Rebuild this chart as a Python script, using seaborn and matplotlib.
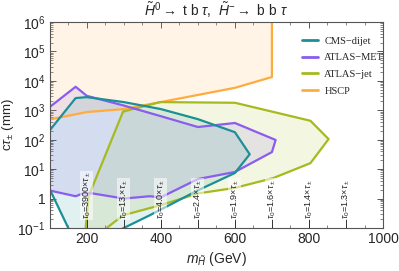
import numpy as np
import pandas as pd
import seaborn as sns
import matplotlib.pyplot as plt
from matplotlib.ticker import FixedLocator, LogLocator, FuncFormatter, NullFormatter

# contour points (mass in GeV, c*tau in mm)
hscp_m = [90, 200, 300, 400, 600, 700, 700, 90]
hscp_ct = [460, 870, 1100, 1900, 5800, 13500, 1e7, 1e7]

cms_m = [90, 170, 200, 300, 400, 500, 600, 640, 600, 500, 370, 300, 275, 156, 90]
cms_ct = [145, 2600, 2800, 1900, 1100, 500, 180, 32, 7.4, 1.9, 0.27, 0.1, 0.07, 0.07, 3.8]

met_m = [90, 170, 200, 300, 400, 500, 600, 710, 700, 600, 500, 400, 370, 300, 215, 190, 170, 90]
met_ct = [1030, 6300, 3100, 1450, 630, 270, 370, 98, 38, 8, 4.6, 1.1, 1.2, 1.0, 1.5, 1.5, 1.2, 2.0]

jet_m = [298, 398, 600, 804, 853, 804, 704, 600, 501, 400, 298, 238, 196, 205]
jet_ct = [900, 1900, 1800, 440, 105, 16, 5, 2.3, 1.5, 0.6, 0.27, 0.07, 0.07, 1.2]

tau_pos = [200, 300, 400, 500, 600, 700, 800, 900]
tau_txt = ["3900", "13.", "4.0", "2.4", "1.9", "1.6", "1.4", "1.3"]

curves = [
    ("CMS\u2212dijet", cms_m, cms_ct, "#1b9096"),
    ("ATLAS\u2212MET", met_m, met_ct, "#8a5cf0"),
    ("ATLAS\u2212jet", jet_m, jet_ct, "#a6ba1e"),
    ("HSCP", hscp_m, hscp_ct, "#ffac3c"),
]

sns.set_theme(style="ticks")
plt.rcParams['font.family'] = ['Liberation Sans', 'DejaVu Sans']
plt.rcParams['mathtext.fontset'] = 'custom'
plt.rcParams['mathtext.rm'] = 'Liberation Sans'
plt.rcParams['mathtext.it'] = 'Liberation Sans:italic'

fig = plt.figure(figsize=(3.99, 2.71), dpi=100)
ax = fig.add_axes([0.1246, 0.1587, 0.8354, 0.7601])

# fills first, HSCP at the bottom
for name, m, ct, col in curves[::-1]:
    ax.fill(m, ct, color=col, alpha=0.13, lw=0)

for name, m, ct, col in curves[::-1]:
    d = pd.DataFrame({"m": m + [m[0]], "ct": ct + [ct[0]]})
    sns.lineplot(data=d, x="m", y="ct", sort=False, estimator=None,
                 color=col, lw=1.6, ax=ax, label=name)

ax.set_yscale("log")
ax.set_xlim(100, 1000)
ax.set_ylim(0.1, 1e6)

# lifetime labels along the bottom
for x, t in zip(tau_pos, tau_txt):
    ax.vlines(x, 0.1, 0.2, color="#333333", lw=0.7, zorder=5)
    ax.text(x, 0.2, r"$\tau_0$=" + t + r"$\times\tau_\pm$", rotation=90,
            ha="center", va="bottom", fontsize=6.5, color="#222222", zorder=6,
            bbox=dict(facecolor="white", edgecolor="none", alpha=0.55, pad=0.6))

ax.xaxis.set_major_locator(FixedLocator([200, 400, 600, 800, 1000]))
ax.xaxis.set_minor_locator(FixedLocator(np.arange(100, 1001, 50)))
ax.yaxis.set_major_locator(LogLocator(base=10, numticks=20))
ax.yaxis.set_minor_locator(LogLocator(base=10, subs=np.arange(2, 10), numticks=20))
ax.yaxis.set_minor_formatter(NullFormatter())


def yfmt(v, pos):
    e = int(round(np.log10(v)))
    if e == 0:
        return "1"
    return r"$10^{%d}$" % e


ax.yaxis.set_major_formatter(FuncFormatter(yfmt))
ax.tick_params(which="both", direction="in", top=True, right=True,
               color="#555555", labelsize=10, pad=3)
ax.tick_params(which="major", length=4, width=0.7)
ax.tick_params(which="minor", length=2, width=0.5)
for s in ax.spines.values():
    s.set_color("#555555")
    s.set_linewidth(0.8)

ax.set_xlabel(r"$m_{\tilde{H}}$ (GeV)", fontsize=10, labelpad=3)
ax.set_ylabel(r"c$\tau_{\pm}$ (mm)", fontsize=9.5)
ax.yaxis.set_label_coords(-0.102, 0.5)
ax.set_title(r"$\tilde{H}^0 \rightarrow$ t b $\tau$,  $\tilde{H}^{-} \rightarrow$ b b $\tau$",
             fontsize=10, pad=4)

handles, labels = ax.get_legend_handles_labels()
order = [labels.index(c[0]) for c in curves]
leg = ax.legend([handles[i] for i in order], [labels[i] for i in order],
                loc="upper left", bbox_to_anchor=(0.73, 0.975), frameon=False,
                prop={"family": "Liberation Serif", "size": 7.5},
                handlelength=1.5, handletextpad=0.6, labelspacing=0.7)
for h in leg.get_lines():
    h.set_linewidth(2)

fig.savefig("out.png", dpi=100)
